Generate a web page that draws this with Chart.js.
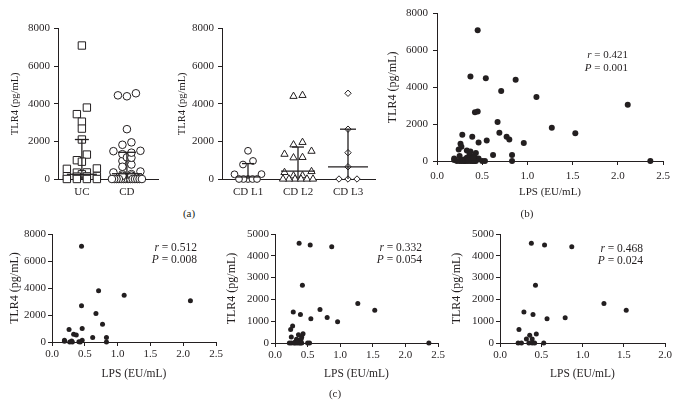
<!DOCTYPE html>
<html><head><meta charset="utf-8">
<script src="https://cdn.jsdelivr.net/npm/chart.js@4"></script>
<style>
html,body{margin:0;padding:0;background:#fff;}
#fig{position:relative;width:678px;height:405px;overflow:hidden;font-family:'Liberation Serif','Times New Roman',Times,serif;color:#231f20;}
#fig canvas{position:absolute;}
.ann{position:absolute;white-space:nowrap;line-height:1;text-align:right;color:#231f20;}
.lab{position:absolute;white-space:nowrap;line-height:1;transform:translate(-50%,-50%);font-size:11px;color:#231f20;}
</style></head><body><div id="fig"></div>
<script>
// ---------- data ----------
const groupsA = ['UC', 'CD'];
const groupsB = ['CD L1', 'CD L2', 'CD L3'];
const ucTLR4 = [7100, 3800, 3450, 3050, 2680, 2100, 1300, 1000, 920, 560, 540, 350, 340, 250, 160, 150, 140, 130, 0, 0, 0, 0];
const cdL1TLR4 = [1500, 960, 770, 260, 250, 0, 0, 0, 0, 0];
const cdL2TLR4 = [4450, 4400, 1950, 1820, 1480, 1320, 1150, 1130, 400, 350, 180, 170, 0, 0, 0, 0, 0, 0];
const cdL3TLR4 = [4560, 2650, 1400, 650, 0, 0, 0];
const medianA = [250, 280];
const upperA = [2100, 1420];
const lowerA = [0, 0];
const medianB = [110, 420, 650];
const upperB = [820, 1700, 2650];
const lowerB = [0, 0, 0];

const ucLPS = [0.45, 0.71, 1.10, 2.11, 0.45, 0.67, 0.77, 0.26, 0.46, 0.33, 0.37, 0.62, 0.83, 0.83, 0.19, 0.19, 0.27, 0.30, 0.31, 0.46, 0.43, 0.41];
const ucTLR4xy = [7100, 3800, 3470, 3050, 2680, 2110, 1320, 930, 1000, 570, 520, 330, 330, 0, 130, 50, 0, 80, 0, 130, 0, 20];
const cdLPS = [0.37, 0.54, 0.87, 0.42, 0.69, 1.27, 1.53, 0.28, 0.39, 0.55, 0.80, 0.96, 2.36, 0.27, 0.24, 0.25, 0.36, 0.43, 0.41, 0.33, 0.36, 0.38, 0.31, 0.22, 0.25, 0.29, 0.31, 0.34, 0.37, 0.39, 0.41, 0.50, 0.53, 0.35, 0.40];
const cdTLR4xy = [4580, 4490, 4410, 2650, 1540, 1810, 1500, 1420, 1310, 1110, 1170, 980, 0, 780, 620, 270, 380, 430, 270, 170, 130, 80, 50, 0, 0, 0, 0, 0, 0, 0, 0, 0, 0, 30, 170];
const subLPS = [0.38, 0.54, 0.87, 0.43, 1.26, 1.53, 0.29, 0.40, 0.57, 0.79, 0.23, 0.44, 0.36, 0.32, 0.39, 0.22, 0.26, 0.35, 0.39, 0.42, 0.53];
const subTLR4xy = [4580, 4490, 4410, 2650, 1810, 1500, 1420, 1310, 1110, 1160, 620, 410, 360, 180, 180, 0, 0, 0, 0, 0, 0];

const tlr4TicksWide = [0, 2000, 4000, 6000, 8000];
const tlr4TicksNarrow = [0, 1000, 2000, 3000, 4000, 5000];
const lpsTicksWide = [0, 0.5, 1.0, 1.5, 2.0, 2.5];
const lpsTicksNarrow = [0, 0.5, 1.0, 1.5, 2.0];
const statR = ['0.421', '0.512', '0.332', '0.468'];
const statP = ['0.001', '0.008', '0.054', '0.024'];
const yTitle = 'TLR4 (pg/mL)';
const xTitle = 'LPS (EU/mL)';

// ---------- drawing ----------
const FONT = "'Liberation Serif','Times New Roman',Times,serif";
const INK = '#231f20';
Chart.defaults.font.family = FONT;
Chart.defaults.color = INK;
const fig = document.getElementById('fig');

// Prism-like scatter-dot layout: rows of nearby values, spread symmetrically.
function swarm(values, center, pxX, pxY, d, maxW, h, cap) {
  const idx = values.map((v, i) => i).sort((a, b) => values[b] - values[a]);
  const rows = [];
  let cur = null;
  for (const i of idx) {
    if (cur && (values[cur.top] - values[i]) * pxY <= h) cur.items.push(i);
    else { cur = {top: i, items: [i]}; rows.push(cur); }
  }
  const chunks = [];
  for (const r of rows) {
    let ch = [];
    for (const i of r.items) {
      if (ch.length >= cap && values[i] < values[ch[ch.length - 1]]) { chunks.push(ch); ch = []; }
      ch.push(i);
    }
    chunks.push(ch);
  }
  const xs = new Array(values.length);
  for (const ch of chunks) {
    const n = ch.length;
    const s = n > 1 ? Math.min(d, maxW / (n - 1)) : 0;
    const offs = ch.map((_, k) => (k - (n - 1) / 2) * s);
    offs.sort((a, b) => Math.abs(a) - Math.abs(b) || a - b);
    const asc = ch.slice().sort((a, b) => values[a] - values[b]);
    asc.forEach((i, k) => { xs[i] = center + offs[k] / pxX; });
  }
  return values.map((v, i) => ({x: xs[i], y: v}));
}
function seg(x1, y1, x2, y2) {
  return {data: [{x: x1, y: y1}, {x: x2, y: y2}], showLine: true, pointRadius: 0,
    borderColor: INK, borderWidth: 1.3, clip: false, fill: false};
}
function pts(data, style, r, open) {
  return {data, pointStyle: style, pointRadius: r, showLine: false, clip: false,
    pointBackgroundColor: open ? '#fff' : INK, pointBorderColor: INK,
    pointBorderWidth: open ? 1 : 0};
}

function makeChart(s) {
  const padT = 9, padR = 14;
  const lhY = s.yTitleSize * 1.2;
  const left = Math.round(s.yTitleX - lhY / 2);
  const top = s.plot.t - padT;
  const right = s.plot.r + padR;
  const bottom = s.xTitle ? Math.round(s.xTitleY + s.xTitleSize * 0.6) : s.plot.b + 26;
  const W = right - left, H = bottom - top;
  const cv = document.createElement('canvas');
  cv.width = W; cv.height = H;
  cv.style.left = left + 'px'; cv.style.top = top + 'px';
  cv.style.width = W + 'px'; cv.style.height = H + 'px';
  fig.appendChild(cv);
  const Wy = s.plot.l - left, Hx = bottom - s.plot.b;
  const xTicks = s.xTicks, yTicks = s.yTicks;
  new Chart(cv, {
    type: 'scatter',
    data: {datasets: s.datasets},
    options: {
      responsive: false, devicePixelRatio: 1, animation: false, events: [],
      layout: {padding: {left: 0, top: padT, right: padR, bottom: 0}},
      plugins: {legend: {display: false}, tooltip: {enabled: false}},
      scales: {
        x: {
          type: 'linear', position: 'bottom', min: s.xMin, max: s.xMax,
          afterFit: sc => { sc.height = Hx; },
          afterBuildTicks: sc => { sc.ticks = xTicks.map(v => ({value: v})); },
          border: {display: true, color: INK, width: 1},
          grid: {drawOnChartArea: false, drawTicks: s.xTickMarks, tickLength: 4, color: INK},
          ticks: {font: {size: 11}, padding: s.xPad, maxRotation: 0, autoSkip: false, color: INK,
            callback: s.xLabel},
          title: {display: !!s.xTitle, text: s.xTitle || '', font: {size: s.xTitleSize || 11},
            padding: {top: 0, bottom: 0}, color: INK}
        },
        y: {
          type: 'linear', position: 'left', min: yTicks[0], max: yTicks[yTicks.length - 1],
          afterFit: sc => { sc.width = Wy; },
          afterBuildTicks: sc => { sc.ticks = yTicks.map(v => ({value: v})); },
          border: {display: true, color: INK, width: 1},
          grid: {drawOnChartArea: false, drawTicks: true, tickLength: 4, color: INK},
          ticks: {font: {size: 11}, padding: s.yPad, color: INK, callback: v => String(v)},
          title: {display: true, text: yTitle, font: {size: s.yTitleSize},
            padding: {top: 0, bottom: 0}, color: INK}
        }
      }
    }
  });
}

// ----- (a) left: UC / CD dot plot -----
(function () {
  const plot = {l: 58, t: 27, r: 158, b: 179};
  const xMin = 0.47, xMax = 2.69;
  const pxX = (plot.r - plot.l) / (xMax - xMin), pxY = (plot.b - plot.t) / 8000;
  const cd = cdL1TLR4.concat(cdL2TLR4, cdL3TLR4);
  const capH = [7, 9], medH = [15, 15];
  const ds = [];
  for (let i = 0; i < 2; i++) {
    const c = i + 1;
    ds.push(seg(c, lowerA[i], c, upperA[i]));
    ds.push(seg(c - capH[i] / pxX, upperA[i], c + capH[i] / pxX, upperA[i]));
    ds.push(seg(c - medH[i] / pxX, medianA[i], c + medH[i] / pxX, medianA[i]));
  }
  ds.push(pts(swarm(ucTLR4, 1, pxX, pxY, 10, 30, 6.8, 4), 'rect', 5.2, true));
  ds.push(pts(swarm(cd, 2, pxX, pxY, 9, 30, 6.8, 4), 'circle', 3.8, true));
  makeChart({plot, xMin, xMax, yTitleX: 15, yTitleSize: 10.5, xTitle: null,
    xTicks: [1, 2], xTickMarks: false, xPad: 7, yPad: 4, yTicks: tlr4TicksWide,
    xLabel: v => groupsA[Math.round(v) - 1] || '', datasets: ds});
})();

// ----- (a) right: CD L1 / L2 / L3 -----
(function () {
  const plot = {l: 222, t: 27, r: 375, b: 179};
  const xMin = 0.48, xMax = 3.54;
  const pxX = (plot.r - plot.l) / (xMax - xMin), pxY = (plot.b - plot.t) / 8000;
  const capH = [6, 6, 8], medH = [12, 17, 20];
  const ds = [];
  for (let i = 0; i < 3; i++) {
    const c = i + 1;
    ds.push(seg(c, lowerB[i], c, upperB[i]));
    ds.push(seg(c - capH[i] / pxX, upperB[i], c + capH[i] / pxX, upperB[i]));
    ds.push(seg(c - medH[i] / pxX, medianB[i], c + medH[i] / pxX, medianB[i]));
  }
  ds.push(pts(swarm(cdL1TLR4, 1, pxX, pxY, 10, 27, 6.8, 7), 'circle', 3.4, true));
  ds.push(pts(swarm(cdL2TLR4, 2, pxX, pxY, 9, 30, 6.8, 4), 'triangle', 4.2, true));
  ds.push(pts(swarm(cdL3TLR4, 3, pxX, pxY, 9, 18, 6.8, 4), 'rectRot', 3.2, true));
  makeChart({plot, xMin, xMax, yTitleX: 182, yTitleSize: 10.5, xTitle: null,
    xTicks: [1, 2, 3], xTickMarks: false, xPad: 7, yPad: 4, yTicks: tlr4TicksWide,
    xLabel: v => groupsB[Math.round(v) - 1] || '', datasets: ds});
})();

function xy(xs, ys) { return xs.map((x, i) => ({x, y: ys[i]})); }
const fmt1 = v => Number(v).toFixed(1);

// ----- (b) all patients -----
makeChart({plot: {l: 437, t: 11, r: 663, b: 161}, xMin: 0, xMax: 2.5,
  yTitleX: 393, yTitleSize: 12, xTitle: xTitle, xTitleY: 192, xTitleSize: 11,
  xTicks: lpsTicksWide, xTickMarks: true, xPad: 5, yPad: 5, yTicks: tlr4TicksWide,
  xLabel: fmt1, datasets: [pts(xy(ucLPS.concat(cdLPS), ucTLR4xy.concat(cdTLR4xy)), 'circle', 3, false)]});

// ----- (c) three correlations -----
makeChart({plot: {l: 52, t: 234, r: 216, b: 342}, xMin: 0, xMax: 2.5,
  yTitleX: 15, yTitleSize: 12, xTitle: xTitle, xTitleY: 374, xTitleSize: 11.5,
  xTicks: lpsTicksWide, xTickMarks: true, xPad: 2, yPad: 2, yTicks: tlr4TicksWide,
  xLabel: fmt1, datasets: [pts(xy(ucLPS, ucTLR4xy), 'circle', 2.5, false)]});
makeChart({plot: {l: 275, t: 234, r: 438, b: 343}, xMin: 0, xMax: 2.5,
  yTitleX: 232, yTitleSize: 12, xTitle: xTitle, xTitleY: 374, xTitleSize: 11.5,
  xTicks: lpsTicksWide, xTickMarks: true, xPad: 2, yPad: 2, yTicks: tlr4TicksNarrow,
  xLabel: fmt1, datasets: [pts(xy(cdLPS, cdTLR4xy), 'circle', 2.5, false)]});
makeChart({plot: {l: 500, t: 234, r: 665, b: 343}, xMin: 0, xMax: 2.0,
  yTitleX: 457, yTitleSize: 12, xTitle: xTitle, xTitleY: 374, xTitleSize: 11.5,
  xTicks: lpsTicksNarrow, xTickMarks: true, xPad: 2, yPad: 2, yTicks: tlr4TicksNarrow,
  xLabel: fmt1, datasets: [pts(xy(subLPS, subTLR4xy), 'circle', 2.5, false)]});

// ----- annotations -----
function ann(rightX, cy, fs, html) {
  const d = document.createElement('div');
  d.className = 'ann';
  d.style.right = (678 - rightX) + 'px';
  d.style.top = (cy - fs / 2) + 'px';
  d.style.fontSize = fs + 'px';
  d.innerHTML = html;
  fig.appendChild(d);
}
const annPos = [[628, 54, 67, 11], [197, 248, 260, 11.5], [422, 248, 260, 11.5], [643, 249, 261, 11.5]];
annPos.forEach((p, i) => {
  ann(p[0], p[1], p[3], '<i>r</i> = ' + statR[i]);
  ann(p[0], p[2], p[3], '<i>P</i> = ' + statP[i]);
});
[['(a)', 189, 213], ['(b)', 527, 213], ['(c)', 335, 393]].forEach(([t, x, y]) => {
  const d = document.createElement('div');
  d.className = 'lab';
  d.style.left = x + 'px'; d.style.top = y + 'px';
  d.textContent = t;
  fig.appendChild(d);
});
</script></body></html>
